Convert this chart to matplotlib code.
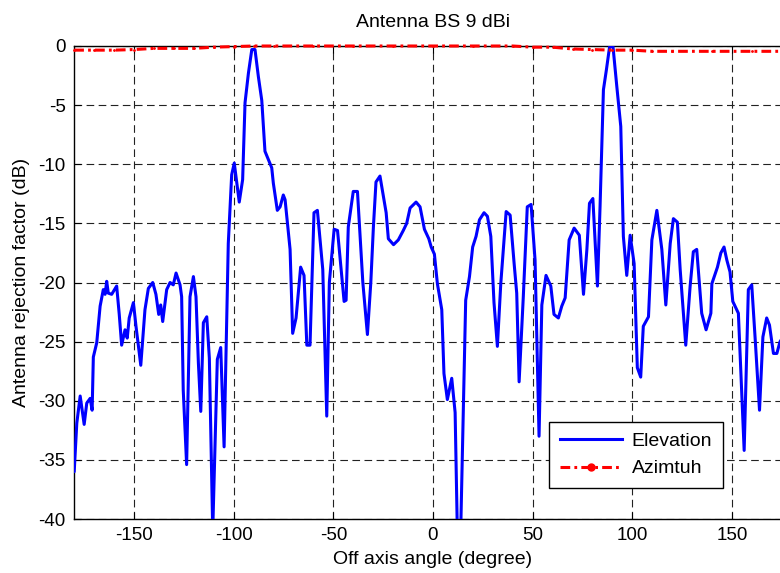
import matplotlib
matplotlib.use("Agg")
import matplotlib.pyplot as plt
from matplotlib.lines import Line2D

plt.rcParams['font.family'] = ['Liberation Sans', 'DejaVu Sans']
plt.rcParams['lines.scale_dashes'] = False

# Elevation pattern (angle in degree, rejection in dB)
elev_angle = [-180, -178.7, -177, -175, -173.7, -172, -171, -170.4, -168.7, -167,
              -165.4, -164.5, -163.7, -162.9, -161.2, -158.7, -157.4, -156.2, -154.5, -153.4,
              -152.4, -150.3, -149, -146.6, -144.5, -142.8, -140.6, -139, -137.6, -136.6,
              -135.6, -133.6, -131.9, -130.3, -128.9, -126.9, -126.1, -125.3, -123.6, -121.9,
              -120.2, -118.9, -117.7, -116.5, -115.2, -113.5, -112.2, -110.5, -108.2, -106.5,
              -104.8, -102.7, -101.0, -99.7, -97.2, -95.5, -94.3, -92.6, -90.9, -89.3,
              -87.6, -85.9, -84.3, -80.9, -80.1, -78.1, -76.7, -75.1, -74.2, -71.7,
              -70.4, -68.7, -66.4, -64.7, -63.3, -61.7, -59.7, -58.0, -55.3, -53.3,
              -52.0, -49.6, -47.9, -44.6, -43.6, -42.5, -40.0, -37.9, -35.2, -32.9,
              -31.2, -29.9, -28.6, -26.6, -23.5, -22.4, -19.8, -17.4, -14.9, -13.2,
              -11.5, -8.5, -6.5, -4.3, -2.1, -0.9, 0.7, 2.2, 4.4, 5.5,
              7.2, 9.4, 11.1, 12.2, 13.9, 16.4, 18.3, 19.9, 21.6, 23.3,
              25.6, 27.3, 29.0, 30.6, 32.3, 34.0, 36.7, 38.7, 40.7, 42.0,
              43.2, 45.3, 47.3, 49.2, 51.2, 53.2, 54.6, 56.7, 59.1, 60.7,
              62.9, 64.6, 66.3, 68.3, 70.8, 73.4, 75.5, 77.2, 78.5, 80.2,
              82.5, 83.8, 85.5, 87.0, 88.6, 90.3, 92.2, 94.2, 95.5, 97.2,
              98.9, 100.9, 102.5, 104.2, 105.5, 108.1, 109.8, 112.3, 114.8, 116.8,
              119.0, 120.6, 122.6, 124.0, 126.8, 129.0, 130.6, 132.3, 134.8, 137.0,
              139.4, 139.9, 142.7, 144.4, 146.0, 147.4, 149.0, 150.4, 153.2, 156.1,
              158.2, 159.9, 161.6, 163.8, 165.5, 167.4, 168.8, 170.8, 172.5, 174.1,
              176.0, 180.0]
elev_db = [-36.0, -31.9, -29.6, -32.0, -30.2, -29.8, -30.8, -26.3, -25.1, -22.0,
           -20.6, -21.0, -19.9, -20.9, -21.0, -20.3, -22.7, -25.3, -24.0, -24.7,
           -23.0, -21.7, -23.7, -27.0, -22.3, -20.5, -20.0, -21.0, -22.7, -21.9,
           -23.3, -20.6, -20.0, -20.2, -19.2, -20.2, -21.2, -29.1, -35.4, -21.2,
           -19.5, -21.2, -26.8, -30.9, -23.4, -22.9, -26.4, -41.0, -26.5, -25.5,
           -33.9, -16.7, -10.9, -9.9, -13.2, -11.3, -4.8, -2.3, -0.3, -0.3,
           -2.6, -4.6, -8.9, -10.3, -11.6, -13.9, -13.6, -12.6, -13.0, -17.2,
           -24.3, -23.0, -18.7, -19.4, -25.3, -25.3, -14.1, -13.9, -18.9, -31.3,
           -20.0, -15.5, -15.6, -21.6, -21.5, -15.3, -12.3, -12.3, -20.0, -24.4,
           -20.0, -15.3, -11.5, -11.0, -14.1, -16.3, -16.8, -16.4, -15.6, -15.0,
           -13.7, -13.2, -13.6, -15.5, -16.3, -17.0, -17.6, -20.1, -22.3, -27.7,
           -29.9, -28.1, -31.0, -41.0, -41.0, -21.5, -19.5, -17.0, -16.1, -14.7,
           -14.1, -14.4, -16.1, -21.7, -25.4, -20.1, -14.0, -14.3, -18.4, -20.9,
           -28.4, -21.2, -13.6, -13.4, -18.1, -33.0, -21.9, -19.4, -20.3, -22.7,
           -23.0, -22.0, -21.3, -16.4, -15.4, -16.0, -21.0, -17.2, -13.3, -12.9,
           -20.3, -13.6, -3.7, -2.0, -0.05, -0.05, -3.4, -6.8, -16.1, -19.4,
           -16.0, -18.4, -27.2, -28.0, -23.7, -22.9, -16.4, -13.9, -17.2, -21.9,
           -16.7, -14.6, -14.9, -18.9, -25.3, -20.3, -17.4, -17.2, -22.6, -24.0,
           -22.6, -20.1, -18.7, -17.5, -17.0, -18.1, -19.1, -21.6, -22.6, -34.2,
           -20.6, -20.2, -24.7, -30.8, -24.6, -23.0, -23.6, -26.0, -26.0, -25.0,
           -24.5, -24.0]

# Azimuth pattern
azim_angle = [-180, -170, -160, -150, -140, -130, -120, -110, -100, -90,
              -80, -60, -40, -20, 0, 20, 40, 50, 60, 70,
              80, 90, 100, 110, 120, 140, 160, 180]
azim_db = [-0.35, -0.35, -0.35, -0.3, -0.2, -0.2, -0.2, -0.1, -0.05, 0.0,
           0.0, 0.0, 0.0, 0.0, 0.0, 0.0, 0.0, -0.1, -0.1, -0.25,
           -0.3, -0.35, -0.35, -0.45, -0.45, -0.45, -0.45, -0.45]

x_ticks = [-150, -100, -50, 0, 50, 100, 150]
y_ticks = [0, -5, -10, -15, -20, -25, -30, -35, -40]

fig = plt.figure(figsize=(7.8, 5.73), dpi=100)
W, H = 780, 573
left_px, right_px, top_px, bot_px = 74.2, 791.8, 46, 519
ax = fig.add_axes([left_px / W, 1 - bot_px / H, (right_px - left_px) / W, (bot_px - top_px) / H])

ax.plot(elev_angle, elev_db, color='#0000ff', lw=2.2, zorder=3,
        solid_joinstyle='round', solid_capstyle='round')
ax.plot(azim_angle, azim_db, color='#ff0000', lw=2.2, ls=(0, (7, 3, 2, 3)),
        marker='.', markersize=2, zorder=4, clip_on=False)

ax.set_xlim(-180, 180)
ax.set_ylim(-40, 0)
ax.set_xticks(x_ticks)
ax.set_yticks(y_ticks)
ax.set_xticklabels([str(v) for v in x_ticks])
ax.set_yticklabels([str(v) for v in y_ticks])
ax.tick_params(direction='in', length=5, width=0.8, top=True, right=True,
               labelsize=13.5, colors='black', pad=6)
ax.grid(True, color='#222222', lw=0.8, ls=(0, (5.5, 3.2)))
ax.set_axisbelow(True)
for s in ax.spines.values():
    s.set_linewidth(1.0)
    s.set_color('black')

ax.set_title('Antenna BS 9 dBi', fontsize=14, pad=14)
ax.set_xlabel('Off axis angle (degree)', fontsize=14, labelpad=5)
ax.set_ylabel('Antenna rejection factor (dB)', fontsize=14, labelpad=6)

handles = [Line2D([], [], color='#0000ff', lw=2.2),
           Line2D([], [], color='#ff0000', lw=2.2, ls=(0, (7, 3, 2, 3)), marker='.', markersize=10)]
leg = ax.legend(handles, ['Elevation', 'Azimtuh'], loc='lower right',
                bbox_to_anchor=(723 / W, (H - 488) / H), bbox_transform=fig.transFigure,
                borderaxespad=0, fontsize=14, handlelength=3.2, fancybox=False,
                framealpha=1, edgecolor='black', borderpad=0.55, labelspacing=0.5,
                handletextpad=0.5)
leg.get_frame().set_linewidth(1.0)

fig.savefig('out.png', dpi=100)
